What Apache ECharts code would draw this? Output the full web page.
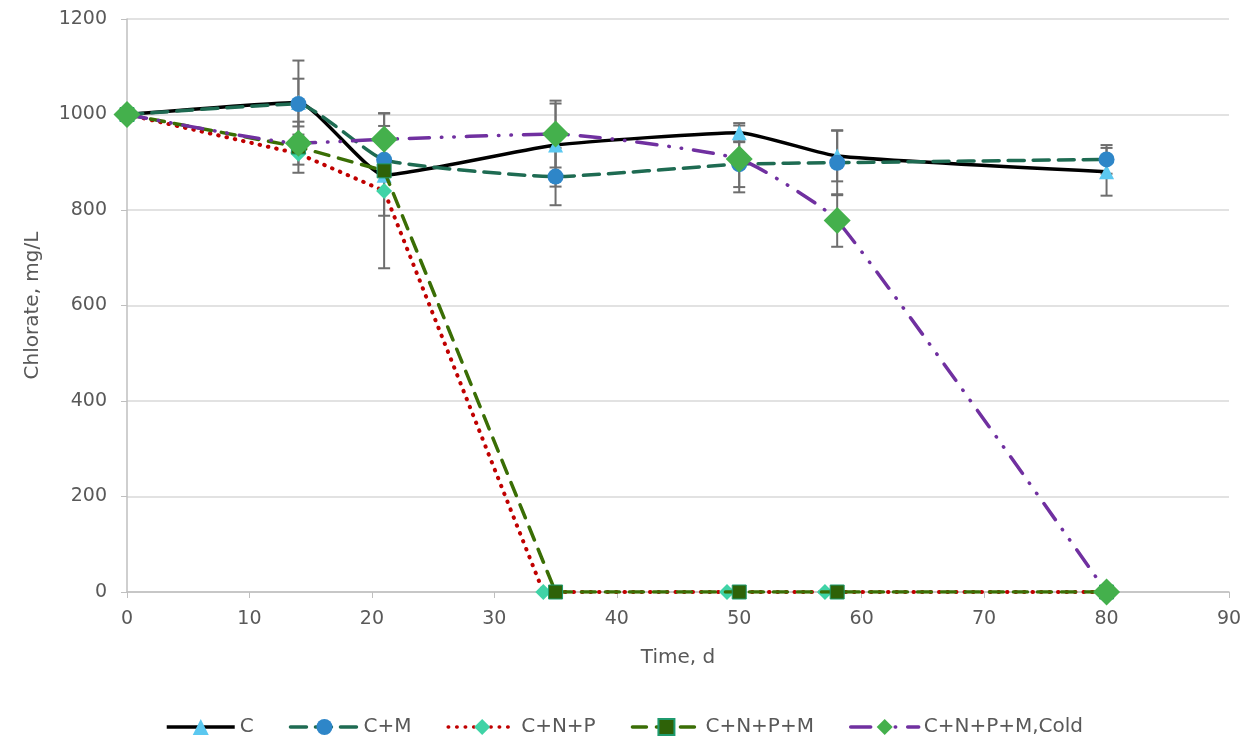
<!DOCTYPE html>
<html>
<head>
<meta charset="utf-8">
<script src="https://cdn.jsdelivr.net/npm/echarts@6/dist/echarts.min.js"></script>
<style>
  html, body { margin: 0; padding: 0; background: #fff; }
  #chart { width: 1248px; height: 744px; }
</style>
</head>
<body>
<div id="chart"></div>
<script>
// sampling days per series
const tC = [0, 14, 21, 35, 50, 58, 80];
const tCM = [0, 14, 21, 35, 50, 58, 80];
const tCNP = [0, 14, 21, 34, 49, 57, 80];
const tCNPM = [0, 14, 21, 35, 50, 58, 80];
const tCold = [0, 14, 21, 35, 50, 58, 80];

// chlorate, mg/L
const valC = [1000, 1025, 873, 936, 962, 913, 880];
const valCM = [1000, 1022, 905, 870, 896, 899, 906];
const valCNP = [1000, 918, 840, 0, 0, 0, 0];
const valCNPM = [1000, 932, 882, 0, 0, 0, 0];
const valCold = [1000, 940, 948, 959, 907, 778, 0];

// error bar half widths
const errC = [0, 50, 0, 87, 20, 53, 50];
const errCM = [0, 91, 0, 60, 48, 68, 30];
const errCNP = [0, 40, 162, 0, 0, 0, 0];
const errCNPM = [0, 0, 94, 0, 0, 0, 0];
const errCold = [0, 45, 55, 70, 70, 55, 0];

const names = ['C', 'C+M', 'C+N+P', 'C+N+P+M', 'C+N+P+M,Cold'];

const FONT = 'DejaVu Sans';
const GREY = '#595959';

const pairs = (t, v) => t.map((x, i) => [x, v[i]]);

const errSeries = (t, v, e) => ({
    type: 'custom',
    silent: true,
    z: 1,
    data: t.map((x, i) => [x, v[i], e[i]]),
    encode: {x: 0, y: 1},
    renderItem: function(params, api) {
        const err = api.value(2);
        if (!err) return;
        const x = api.value(0), y = api.value(1);
        const top = api.coord([x, y + err]);
        const bot = api.coord([x, y - err]);
        const w = 6;
        const style = {stroke: '#6E6E6E', lineWidth: 2};
        return {
            type: 'group',
            children: [
                {type: 'line', shape: {x1: top[0], y1: top[1], x2: bot[0], y2: bot[1]}, style: style},
                {type: 'line', shape: {x1: top[0] - w, y1: top[1], x2: top[0] + w, y2: top[1]}, style: style},
                {type: 'line', shape: {x1: bot[0] - w, y1: bot[1], x2: bot[0] + w, y2: bot[1]}, style: style}
            ]
        };
    }
});

const chart = echarts.init(document.getElementById('chart'));

chart.setOption({
    backgroundColor: '#ffffff',
    textStyle: {fontFamily: FONT},
    animation: false,
    grid: {left: 127, right: 19, top: 19, bottom: 152},
    legend: {
        data: names,
        bottom: 2,
        left: 'center',
        itemWidth: 68,
        itemHeight: 20,
        itemGap: 35,
        lineStyle: {width: 3.5},
        textStyle: {color: GREY, fontSize: 20, fontFamily: FONT}
    },
    xAxis: {
        type: 'value',
        min: 0,
        max: 90,
        interval: 10,
        name: 'Time, d',
        nameLocation: 'middle',
        nameGap: 56,
        nameTextStyle: {color: GREY, fontSize: 20, fontFamily: FONT},
        axisLine: {show: true, lineStyle: {color: '#BFBFBF', width: 1.5}},
        axisTick: {show: true, length: 6, lineStyle: {color: '#BFBFBF'}},
        splitLine: {show: false},
        axisLabel: {color: GREY, fontSize: 19, margin: 18}
    },
    yAxis: {
        type: 'value',
        min: 0,
        max: 1200,
        interval: 200,
        name: 'Chlorate, mg/L',
        nameLocation: 'middle',
        nameGap: 84,
        nameTextStyle: {color: GREY, fontSize: 20, fontFamily: FONT},
        axisLine: {show: true, lineStyle: {color: '#BFBFBF', width: 1.5}},
        axisTick: {show: true, length: 6, lineStyle: {color: '#BFBFBF'}},
        splitLine: {lineStyle: {color: '#D9D9D9', width: 1.5}},
        axisLabel: {color: GREY, fontSize: 19, margin: 20, formatter: (v) => String(v)}
    },
    series: [
        errSeries(tC, valC, errC),
        errSeries(tCM, valCM, errCM),
        errSeries(tCNP, valCNP, errCNP),
        errSeries(tCNPM, valCNPM, errCNPM),
        errSeries(tCold, valCold, errCold),
        {
            name: 'C', type: 'line', z: 2,
            data: pairs(tC, valC),
            smooth: 0.15,
            symbol: 'triangle', symbolSize: 15,
            itemStyle: {color: '#5BC8F0'},
            lineStyle: {color: '#000000', width: 3.5}
        },
        {
            name: 'C+M', type: 'line', z: 3,
            data: pairs(tCM, valCM),
            smooth: 0.15,
            symbol: 'circle', symbolSize: 16,
            itemStyle: {color: '#2E86C8'},
            lineStyle: {color: '#1E6B52', width: 3.5, type: [16, 9], cap: 'round'}
        },
        {
            name: 'C+N+P', type: 'line', z: 4,
            data: pairs(tCNP, valCNP),
            symbol: 'diamond', symbolSize: 16,
            itemStyle: {color: '#3FD3A6'},
            lineStyle: {color: '#C00000', width: 4, type: [0.5, 8], cap: 'round'}
        },
        {
            name: 'C+N+P+M', type: 'line', z: 5,
            data: pairs(tCNPM, valCNPM),
            symbol: 'rect', symbolSize: 14,
            itemStyle: {color: '#2E6208', borderColor: '#1F9A6E', borderWidth: 1},
            lineStyle: {color: '#3A6E05', width: 3.5, type: [14, 10], cap: 'round'}
        },
        {
            name: 'C+N+P+M,Cold', type: 'line', z: 6,
            data: pairs(tCold, valCold),
            smooth: 0.15,
            symbol: 'diamond', symbolSize: 27,
            itemStyle: {color: '#44B04C'},
            lineStyle: {color: '#7030A0', width: 3.5, type: [20, 12, 0.5, 12, 0.5, 12], cap: 'round'}
        }
    ]
});
</script>
</body>
</html>
